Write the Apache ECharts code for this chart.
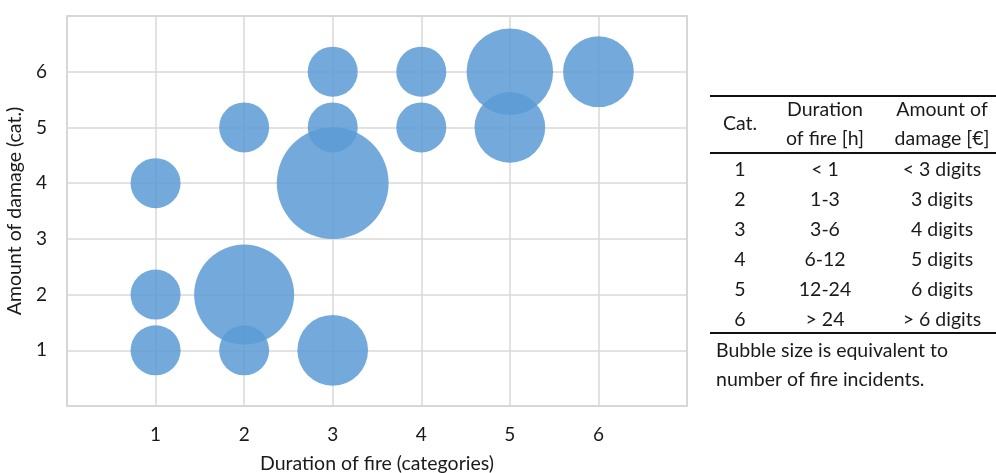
<!DOCTYPE html>
<html>
<head>
<meta charset="utf-8">
<script src="https://cdn.jsdelivr.net/npm/echarts@6/dist/echarts.min.js"></script>
<style>
  html, body { margin: 0; padding: 0; background: #fff; }
  #chart { width: 996px; height: 473px; }
</style>
</head>
<body>
<div id="chart"></div>
<script>
// Duration category (x), damage category (y), number of fire incidents (bubble size)
const durationCat = [1, 1, 1, 2, 2, 2, 3, 3, 3, 3, 4, 4, 5, 5, 6];
const damageCat   = [1, 2, 4, 1, 2, 5, 1, 4, 5, 6, 5, 6, 5, 6, 6];
const incidents   = [1, 1, 1, 1, 4, 1, 2, 5, 1, 1, 1, 1, 2, 3, 2];

const axisTicks = [1, 2, 3, 4, 5, 6];

// Legend table for the categories
const tableHeader = [['Cat.'], ['Duration', 'of fire [h]'], ['Amount of', 'damage [€]']];
const tableCat = ['1', '2', '3', '4', '5', '6'];
const tableDuration = ['< 1', '1-3', '3-6', '6-12', '12-24', '> 24'];
const tableDamage = ['< 3 digits', '3 digits', '4 digits', '5 digits', '6 digits', '> 6 digits'];
const footnote = ['Bubble size is equivalent to', 'number of fire incidents.'];

const FONT = 'Lato';
const TEXT = '#1a1a1a';

const points = durationCat.map((x, i) => [x, damageCat[i], incidents[i]]);

const tickFmt = v => (axisTicks.indexOf(v) >= 0 ? String(v) : '');

// table graphics
const colX = [740, 825, 942];
const graphics = [];
const hline = y => ({
  type: 'line', shape: { x1: 710, y1: y, x2: 996, y2: y },
  style: { stroke: '#111', lineWidth: 2 }
});
graphics.push(hline(96), hline(153), hline(333));
const txt = (s, x, y, align) => ({
  type: 'text', x: x, y: y,
  style: { text: s, font: '19.5px ' + FONT, fill: TEXT, align: align || 'center', verticalAlign: 'middle' }
});
graphics.push(txt(tableHeader[0][0], colX[0], 124));
graphics.push(txt(tableHeader[1][0], colX[1], 110), txt(tableHeader[1][1], colX[1], 139));
graphics.push(txt(tableHeader[2][0], colX[2], 110), txt(tableHeader[2][1], colX[2], 139));
for (let i = 0; i < tableCat.length; i++) {
  const y = 170 + i * 30;
  graphics.push(txt(tableCat[i], colX[0], y), txt(tableDuration[i], colX[1], y), txt(tableDamage[i], colX[2], y));
}
graphics.push(txt(footnote[0], 716, 351, 'left'), txt(footnote[1], 716, 380, 'left'));

const chart = echarts.init(document.getElementById('chart'), null, { renderer: 'canvas' });
chart.setOption({
  animation: false,
  backgroundColor: '#fff',
  textStyle: { fontFamily: FONT },
  grid: {
    left: 67, right: 309, top: 16, bottom: 67,
    outerBoundsMode: 'none', containLabel: false,
    show: true, borderColor: '#c4c4c4', borderWidth: 1.5, backgroundColor: 'transparent'
  },
  xAxis: {
    type: 'value', min: 0, max: 7, interval: 1,
    name: 'Duration of fire (categories)', nameLocation: 'middle', nameGap: 48,
    nameTextStyle: { fontSize: 19.5, color: TEXT, fontFamily: FONT },
    axisLine: { show: false }, axisTick: { show: false },
    axisLabel: { formatter: tickFmt, fontSize: 19, color: TEXT, margin: 19, fontFamily: FONT },
    splitLine: { show: true, lineStyle: { color: '#d9d9d9', width: 1.5 } }
  },
  yAxis: {
    type: 'value', min: 0, max: 7, interval: 1,
    name: 'Amount of damage (cat.)', nameLocation: 'middle', nameGap: 35, nameRotate: 90,
    nameTextStyle: { fontSize: 19.5, color: TEXT, fontFamily: FONT },
    axisLine: { show: false }, axisTick: { show: false },
    axisLabel: { formatter: tickFmt, fontSize: 19, color: TEXT, margin: 20, fontFamily: FONT },
    splitLine: { show: true, lineStyle: { color: '#d9d9d9', width: 1.5 } }
  },
  series: [{
    type: 'scatter',
    data: points,
    symbol: 'circle',
    // bubble area proportional to the number of incidents
    symbolSize: v => 50 * Math.sqrt(v[2]),
    itemStyle: { color: '#5B9BD5', opacity: 0.85 },
    emphasis: { disabled: true }
  }],
  graphic: graphics
});
</script>
</body>
</html>
